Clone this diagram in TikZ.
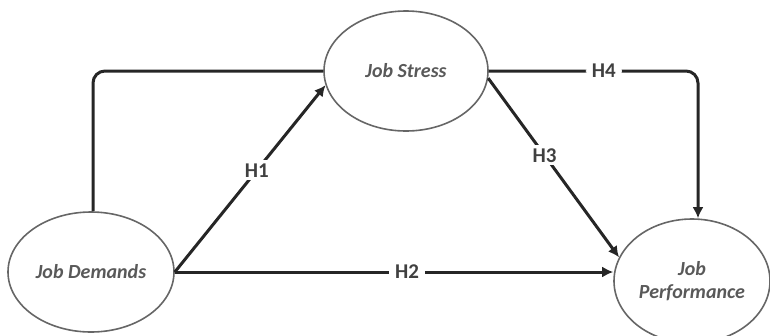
\documentclass[tikz,border=0pt]{standalone}
\usepackage{fontspec}
\setmainfont{Carlito}
\usetikzlibrary{shapes.geometric,arrows.meta}
\begin{document}
\begin{tikzpicture}[x=1pt,y=-1pt,
  var/.style={draw=black!60,line width=1.6pt,ellipse,minimum width=#1,font=\fontsize{20}{22}\selectfont\bfseries\itshape,text=black!65,align=center,inner sep=0pt},
  link/.style={line width=3pt,draw=black!85},
  arr/.style={link,-{Latex[length=11pt,width=11pt]}},
  hlab/.style={fill=white,inner xsep=6pt,inner ysep=3pt,font=\fontsize{21}{23}\selectfont\bfseries,text=black!75}]
\useasboundingbox (0,0) rectangle (770,335);
\node[var=166pt,minimum height=120pt] (jd) at (91,272) {Job Demands};
\node[var=164pt,minimum height=120pt] (js) at (406,71) {Job Stress};
\node[var=156pt,minimum height=124pt,font=\fontsize{20}{23}\selectfont\bfseries\itshape] (jp) at (692,281) {Job\\Performance};
\coordinate (c4) at (698,0);
\draw[link,rounded corners=12pt] (jd.north) ++(2,0) |- (js.west);
\draw[arr] (jd.east) -- node[hlab,pos=0.545]{H1} (js.190);
\draw[arr] (jd.east) -- node[hlab,pos=0.53]{H2} (jp.west |- jd.east);
\draw[arr] (js.-5) -- node[hlab,pos=0.43]{H3} (jp.162);
\draw[arr,rounded corners=12pt] (js.east) -- node[hlab,pos=0.55]{H4} (js.east -| c4) -- (jp.north -| c4);
\end{tikzpicture}
\end{document}
